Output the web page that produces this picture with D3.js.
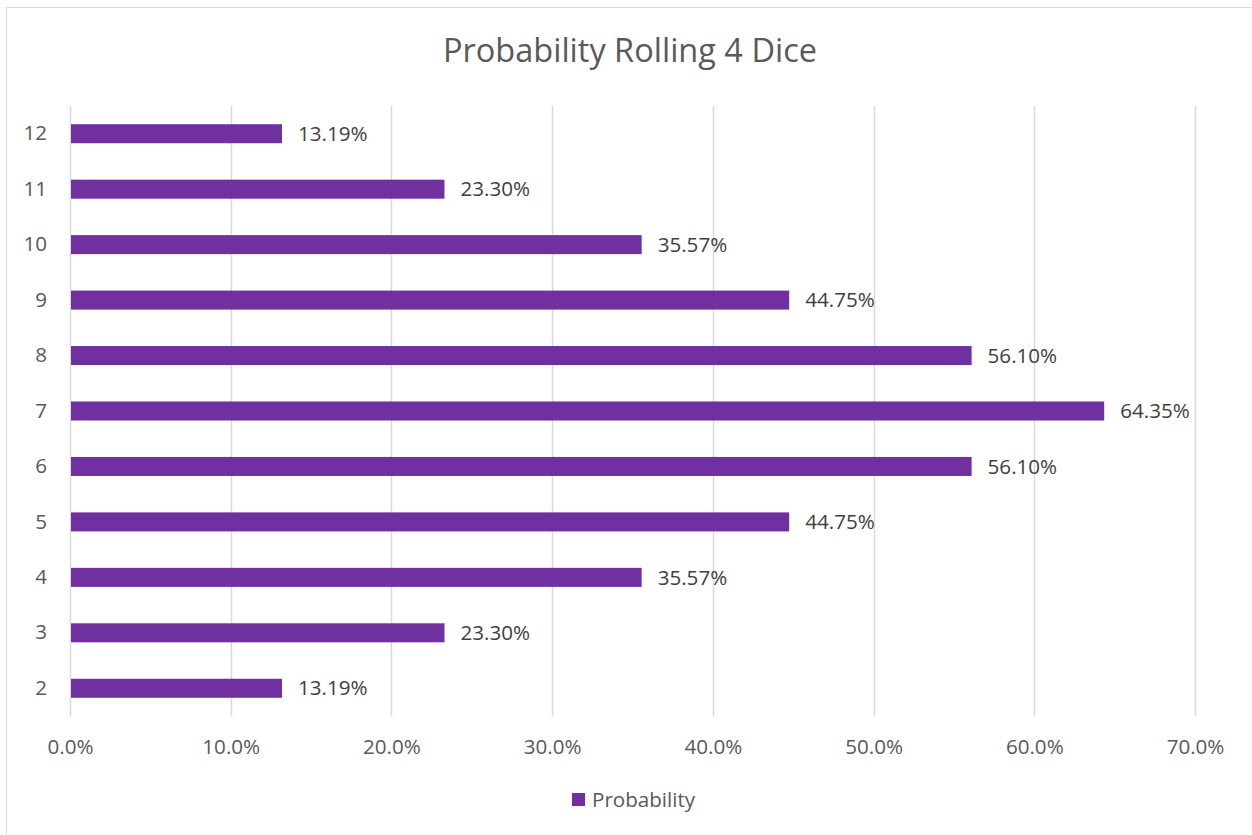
<!DOCTYPE html>
<html><head><meta charset="utf-8">
<script src="https://cdn.jsdelivr.net/npm/d3@7"></script>
<style>body{margin:0;background:#fff}svg{display:block}text{font-family:"Open Sans",sans-serif}</style>
</head><body><div id="c"></div>
<script>
const categories = ["2","3","4","5","6","7","8","9","10","11","12"];
const values = [0.1319,0.2330,0.3557,0.4475,0.5610,0.6435,0.5610,0.4475,0.3557,0.2330,0.1319];
const labels = ["13.19%","23.30%","35.57%","44.75%","56.10%","64.35%","56.10%","44.75%","35.57%","23.30%","13.19%"];
const xTicks = [0,0.1,0.2,0.3,0.4,0.5,0.6,0.7];
const title = "Probability Rolling 4 Dice";
const seriesName = "Probability";

const W=1252,H=835;
const svg=d3.select("#c").append("svg").attr("width",W).attr("height",H);
svg.append("rect").attr("x",6.5).attr("y",7.5).attr("width",1252).attr("height",840).attr("fill","#fff").attr("stroke","#d9d9d9");
const x=d3.scaleLinear().domain([0,0.7]).range([70,1195]);
const y=d3.scaleBand().domain(categories.slice().reverse()).range([106,716]).paddingInner(0.657).paddingOuter(0.3285);
const color="#7030A0";
// gridlines
svg.append("g").selectAll("line").data(xTicks).join("line")
 .attr("x1",d=>Math.round(x(d))+0.5).attr("x2",d=>Math.round(x(d))+0.5).attr("y1",106).attr("y2",716)
 .attr("stroke","#d9d9d9").attr("stroke-width",1.5);
// x axis labels
const xa=d3.axisBottom(x).tickValues(xTicks).tickFormat(d3.format(".1%")).tickSize(0).tickPadding(0);
const gx=svg.append("g").attr("transform","translate(0,754)").call(xa);
gx.select(".domain").remove();
gx.selectAll("text").attr("font-size",20.6).attr("fill","#595959").attr("dy","0").attr("y",0).style("font-family","'Open Sans',sans-serif");
// y axis labels
const ya=d3.axisLeft(y).tickSize(0).tickPadding(0);
const gy=svg.append("g").attr("transform","translate(47,0)").call(ya);
gy.select(".domain").remove();
gy.selectAll("text").attr("font-size",20.6).attr("fill","#595959").style("font-family","'Open Sans',sans-serif");
// bars
svg.append("g").selectAll("rect").data(values).join("rect")
 .attr("x",x(0)+1).attr("y",(d,i)=>y(categories[i])).attr("height",y.bandwidth())
 .attr("width",d=>x(d)-x(0)-1).attr("fill",color);
// data labels
svg.append("g").selectAll("text").data(values).join("text")
 .attr("x",d=>x(d)+16).attr("y",(d,i)=>y(categories[i])+y.bandwidth()/2).attr("dy","0.35em")
 .attr("font-size",20.6).attr("fill","#404040").text((d,i)=>labels[i]);
// title
svg.append("text").attr("x",630).attr("y",62).attr("text-anchor","middle").attr("font-size",32.5).attr("fill","#595959").text(title);
// legend
svg.append("rect").attr("x",572).attr("y",793).attr("width",13).attr("height",13).attr("fill",color);
svg.append("text").attr("x",592).attr("y",807).attr("font-size",20.6).attr("fill","#595959").text(seriesName);
</script></body></html>
